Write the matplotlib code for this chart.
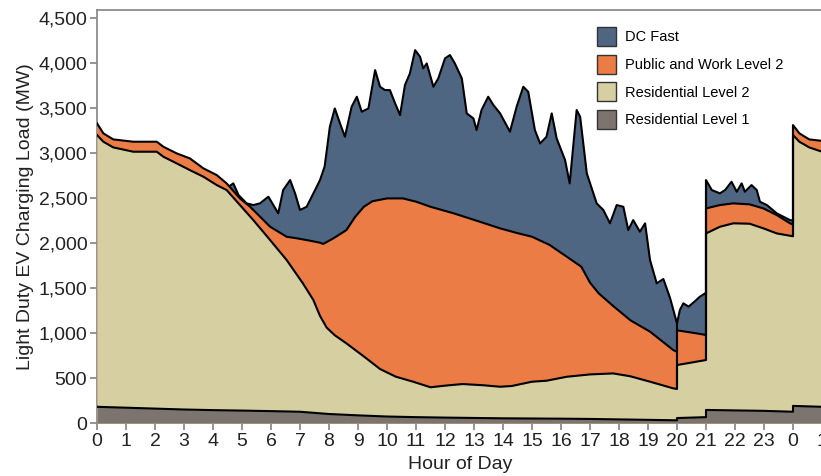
import matplotlib
matplotlib.use("Agg")
import matplotlib.pyplot as plt
import numpy as np
from matplotlib.patches import Patch

plt.rcParams['font.family'] = ['Liberation Sans', 'DejaVu Sans']

# ---------------- data (cumulative stacked boundaries, MW) ----------------
# Residential Level 1 (top of bottom layer)
res1_hours = [0, 1, 2, 3, 4, 5, 6, 7, 8, 9, 10, 11, 12, 13, 14, 15, 16, 17, 18, 19,
              20, 20, 21, 21, 22, 23, 24, 24, 25, 25.5]
res1_top = [180, 170, 160, 150, 143, 138, 132, 125, 100, 85, 72, 65, 60, 56, 52, 50, 48, 45, 40, 35,
            30, 55, 65, 145, 140, 135, 125, 190, 180, 178]

# Residential Level 2 (cumulative top)
res2_hours = [0, 0.22, 0.56, 1.25, 2.06, 2.29, 2.75, 3.2, 3.67, 4.13, 4.47, 4.93, 5.39, 5.97,
              6.54, 7.1, 7.46, 7.69, 7.92, 8.2, 8.6, 9.2, 9.76, 10.3, 10.9, 11.5, 12.0, 12.6, 13.3,
              13.9, 14.3, 15.0, 15.5, 16.2, 17.0, 17.8, 18.38, 19.07, 19.87, 20, 20, 21, 21,
              21.48, 21.94, 22.5, 22.98, 23.44, 24, 24, 24.22, 24.56, 25.0, 25.5]
res2_top = [3200, 3126, 3063, 3015, 3015, 2959, 2885, 2811, 2737, 2644, 2589, 2422, 2255, 2033,
            1811, 1552, 1367, 1190, 1060, 975, 885, 740, 600, 515, 459, 397, 415, 433, 420,
            403, 411, 459, 470, 514, 540, 551, 520, 459, 385, 378, 644, 700, 2107,
            2181, 2219, 2215, 2163, 2107, 2075, 3200, 3126, 3063, 3015, 3015]

# Public and Work Level 2 (cumulative top)
pw2_hours = [0, 0.22, 0.56, 1.25, 2.06, 2.29, 2.75, 3.2, 3.67, 4.13, 4.47, 4.93, 5.28, 5.97,
             6.54, 6.9, 7.23, 7.69, 7.8, 8.15, 8.6, 8.9, 9.2, 9.5, 10.0, 10.55, 11.0, 11.5, 12.3,
             13.2, 13.9, 14.5, 15.0, 15.6, 16.2, 16.7, 17.0, 17.3, 17.8, 18.4, 19.07, 19.87,
             20, 20, 20.68, 21, 21, 21.48, 21.94, 22.5, 22.98, 23.44, 23.9, 24, 24,
             24.22, 24.56, 25.25, 25.5]
pw2_top = [3330, 3219, 3152, 3126, 3126, 3070, 2996, 2941, 2830, 2755, 2663, 2496, 2403, 2181,
           2070, 2052, 2033, 2004, 1990, 2052, 2144, 2290, 2403, 2465, 2496, 2496, 2460, 2403, 2330,
           2237, 2163, 2110, 2070, 1980, 1848, 1737, 1560, 1441, 1300, 1140, 1015, 811,
           790, 1030, 996, 978, 2385, 2422, 2441, 2430, 2385, 2311, 2219, 2205, 3311,
           3219, 3152, 3126, 3126]

# DC Fast (cumulative top = total load)
dc_hours = [4.6, 4.7, 4.88, 5.16, 5.39, 5.62, 5.91, 6.25, 6.42, 6.66, 6.83, 7.0, 7.23, 7.52,
            7.69, 7.85, 8.03, 8.2, 8.38, 8.55, 8.78, 8.96, 9.13, 9.36, 9.59, 9.76, 9.93, 10.1,
            10.28, 10.45, 10.62, 10.79, 10.97, 11.14, 11.25, 11.37, 11.6, 11.77, 12.0, 12.17,
            12.34, 12.58, 12.75, 12.98, 13.09, 13.26, 13.49, 13.67, 13.9, 14.24, 14.47, 14.7,
            14.87, 15.1, 15.28, 15.5, 15.68, 15.85, 16.14, 16.3, 16.54, 16.66, 16.89, 17.23,
            17.46, 17.69, 17.92, 18.15, 18.32, 18.49, 18.72, 18.9, 19.07, 19.3, 19.53, 19.76,
            20.0, 20.1, 20.22, 20.4, 20.6, 20.79, 20.97, 21, 21, 21.2, 21.48, 21.66, 21.88,
            22.06, 22.23, 22.34, 22.57, 22.75, 22.86, 23.1, 23.44, 23.67, 23.9, 24.0]
dc_top = [2640, 2663, 2533, 2441, 2422, 2441, 2515, 2330, 2589, 2700, 2552, 2367, 2403, 2589,
          2700, 2850, 3292, 3496, 3330, 3181, 3514, 3626, 3459, 3496, 3922, 3737, 3700, 3700,
          3552, 3422, 3756, 3885, 4144, 4070, 3941, 3996, 3737, 3830, 4052, 4089,
          3996, 3830, 3441, 3385, 3255, 3478, 3626, 3533, 3441, 3237, 3514, 3737,
          3681, 3255, 3107, 3181, 3441, 3163, 2922, 2663, 3478, 3403, 2774, 2441,
          2367, 2219, 2422, 2403, 2144, 2255, 2126, 2219, 1811, 1552, 1600, 1390,
          1107, 1256, 1330, 1293, 1348, 1404, 1441, 1420, 2700, 2589, 2552, 2589, 2681,
          2570, 2663, 2570, 2644, 2589, 2459, 2422, 2330, 2292, 2255, 2250]

jump_hours = [20, 21, 24]

series_names = ["DC Fast", "Public and Work Level 2", "Residential Level 2", "Residential Level 1"]
series_colors = ["#4f6683", "#ec7c45", "#d5cfa1", "#7c756f"]

xtick_pos = list(range(0, 26))
xtick_labels = [str(h) for h in range(24)] + ["0", "1"]
ytick_pos = list(range(0, 4501, 500))
ytick_labels = [f"{v:,}" for v in ytick_pos]

# ---------------- figure ----------------
fig = plt.figure(figsize=(8.21, 4.76), dpi=100)
ax = fig.add_axes([97 / 821, 53 / 476, 739.5 / 821, 413 / 476])

layers = [(dc_hours, dc_top), (pw2_hours, pw2_top), (res2_hours, res2_top), (res1_hours, res1_top)]
for i, ((hx, hy), col) in enumerate(zip(layers, series_colors)):
    ax.fill_between(hx, 0, hy, color=col, lw=0, zorder=2 + i)

for hx, hy in layers:
    ax.plot(hx, hy, color="black", lw=1.5, zorder=10, solid_joinstyle="round")

# vertical edges at the discontinuities
for h in jump_hours:
    vals = []
    for hx, hy in layers[:3]:
        vals += [v for x, v in zip(hx, hy) if x == h]
    lows = [v for x, v in zip(res2_hours, res2_top) if x == h]
    ax.vlines(h, min(lows), max(vals), color="black", lw=1.5, zorder=10)

ax.set_xlim(0, 25.5)
ax.set_ylim(0, 4590)
ax.set_xticks(xtick_pos)
ax.set_xticklabels(xtick_labels)
ax.set_yticks(ytick_pos)
ax.set_yticklabels(ytick_labels)

for s in ax.spines.values():
    s.set_color("#8c8c8c")
    s.set_linewidth(1.3)
ax.tick_params(axis="both", direction="out", length=5, width=1.3, color="#8c8c8c",
               labelcolor="#222222", labelsize=14)
ax.tick_params(axis="y", pad=2)
ax.tick_params(axis="x", pad=2)

ax.set_xlabel("Hour of Day", fontsize=14, color="#222222")
ax.set_ylabel("Light Duty EV Charging Load (MW)", fontsize=14, color="#222222")
ax.xaxis.set_label_coords((460 - 97) / 739.5, -0.08)
ax.yaxis.set_label_coords((34 - 97) / 739.5, 0.5)

handles = [Patch(facecolor=c, edgecolor="#333333", lw=1.0) for c in series_colors]
fig.legend(handles, series_names, loc="upper left", bbox_to_anchor=(597 / 821, 1 - 27 / 476),
           frameon=False, fontsize=10.5, handlelength=1.3, handleheight=1.62,
           labelspacing=0.6, handletextpad=0.6, borderaxespad=0, borderpad=0)

fig.savefig("out.png", dpi=100)
